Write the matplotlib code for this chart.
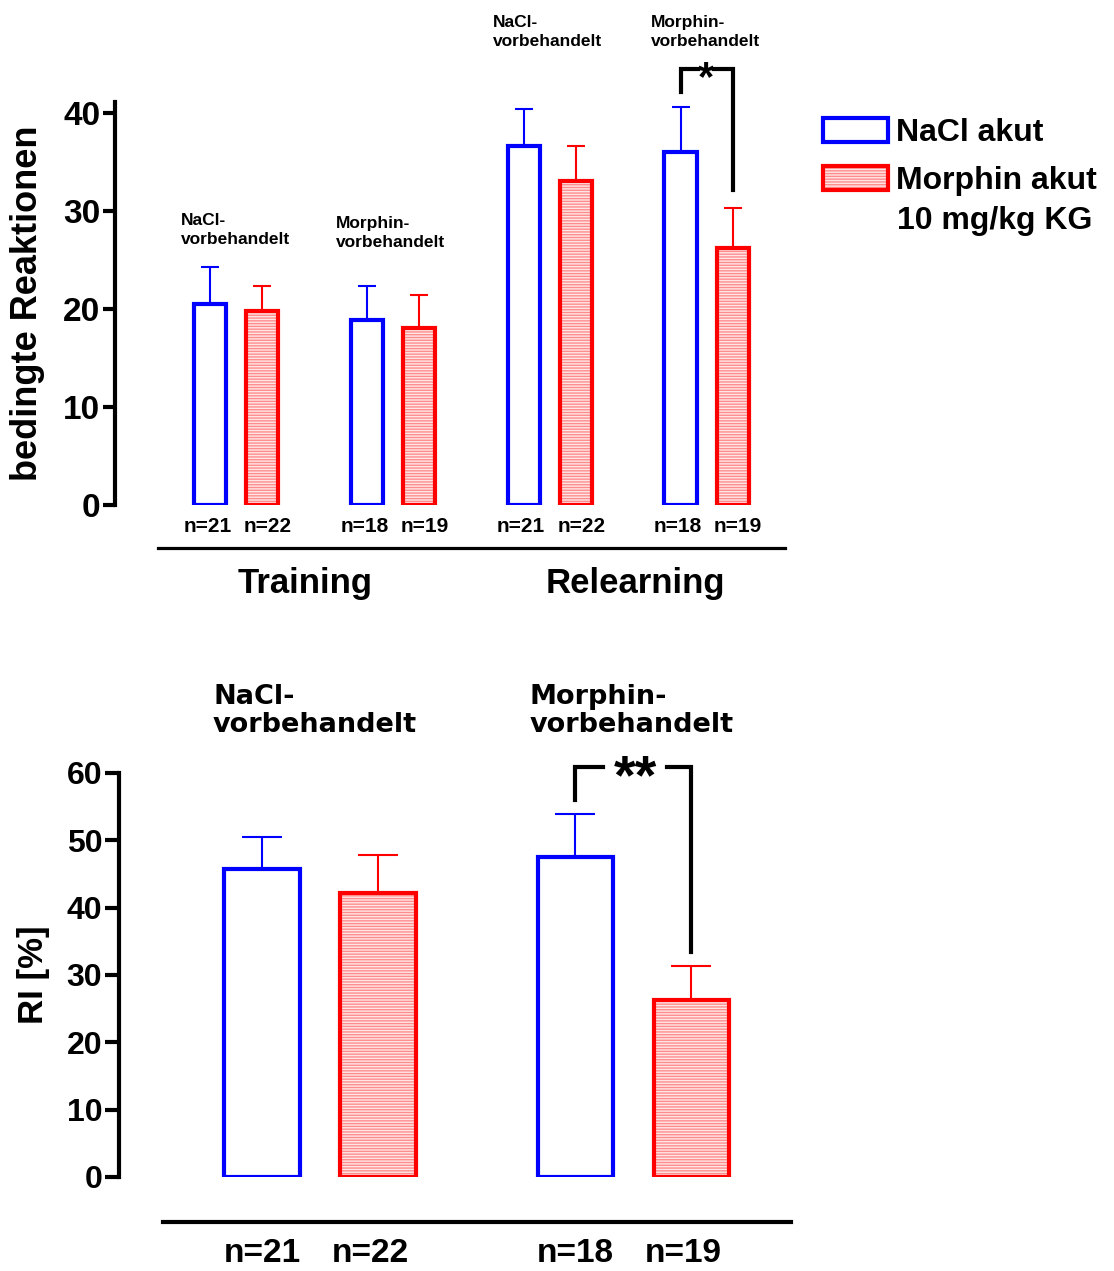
import matplotlib
matplotlib.use('Agg')
import matplotlib.pyplot as plt
from matplotlib.patches import Patch
from matplotlib.lines import Line2D
from matplotlib.legend_handler import HandlerTuple
from matplotlib.transforms import blended_transform_factory
import numpy as np

plt.rcParams['font.family'] = ['Liberation Sans', 'DejaVu Sans']
plt.rcParams['font.weight'] = 'bold'
plt.rcParams['hatch.linewidth'] = 1.0

# ---------------- data ----------------
top_groups = ['NaCl-\nvorbehandelt', 'Morphin-\nvorbehandelt',
              'NaCl-\nvorbehandelt', 'Morphin-\nvorbehandelt']
top_phases = ['Training', 'Relearning']
top_nacl_mean = [20.5, 18.9, 36.6, 36.0]
top_nacl_sem = [3.8, 3.4, 3.8, 4.6]
top_morph_mean = [19.8, 18.1, 33.0, 26.2]
top_morph_sem = [2.5, 3.3, 3.6, 4.1]
top_nacl_n = ['n=21', 'n=18', 'n=21', 'n=18']
top_morph_n = ['n=22', 'n=19', 'n=22', 'n=19']
top_yticks = [0, 10, 20, 30, 40]
top_ylabel = 'bedingte Reaktionen'

bot_groups = ['NaCl-\nvorbehandelt', 'Morphin-\nvorbehandelt']
bot_nacl_mean = [45.8, 47.5]
bot_nacl_sem = [4.7, 6.4]
bot_morph_mean = [42.2, 26.3]
bot_morph_sem = [5.6, 5.1]
bot_nacl_n = ['n=21', 'n=18']
bot_morph_n = ['n=22', 'n=19']
bot_yticks = [0, 10, 20, 30, 40, 50, 60]
bot_ylabel = 'RI [%]'

legend_labels = ['NaCl akut', 'Morphin akut']
legend_note = '10 mg/kg KG'
top_sig = '*'
bot_sig = '**'

# ---------------- style ----------------
W, H = 1114, 1271
BLUE = '#0000ff'
RED = '#ff0000'
PINK_BG = '#ffe6e6'
PINK_HATCH = '#ff8c8c'
HATCH = '------'


def fx(x):
    return x / W


def fy(y):
    return 1 - y / H


fig = plt.figure(figsize=(W / 100, H / 100), dpi=100)


def draw_bars(ax, xb, xr, mb, sb, mr, sr, width, capsize):
    ax.errorbar(xb, mb, yerr=[np.zeros(len(sb)), sb], fmt='none', ecolor=BLUE,
                elinewidth=1.5, capsize=capsize, capthick=1.5, zorder=1)
    ax.errorbar(xr, mr, yerr=[np.zeros(len(sr)), sr], fmt='none', ecolor=RED,
                elinewidth=1.5, capsize=capsize, capthick=1.5, zorder=1)
    ax.bar(xb, mb, width, facecolor='white', edgecolor=BLUE, linewidth=3, zorder=2)
    ax.bar(xr, mr, width, facecolor=PINK_BG, edgecolor=PINK_HATCH, hatch=HATCH,
           linewidth=0, zorder=2)
    ax.bar(xr, mr, width, fill=False, edgecolor=RED, linewidth=3, zorder=3)


def style_axis(ax, ticks, ylim, ticklen, labelsize):
    for s in ['top', 'right', 'bottom']:
        ax.spines[s].set_visible(False)
    ax.spines['left'].set_linewidth(3)
    ax.set_xticks([])
    ax.set_yticks(ticks)
    ax.set_ylim(*ylim)
    ax.tick_params(axis='y', length=ticklen, width=3, pad=2, labelsize=labelsize)
    ax.patch.set_visible(False)


# ---------------- top panel ----------------
ax1 = fig.add_axes([fx(115), fy(505), 675 / W, 403 / H])
gx1 = np.arange(len(top_nacl_mean)) * 3.0
xb1, xr1 = gx1, gx1 + 1
mb1, sb1 = np.array(top_nacl_mean), np.array(top_nacl_sem)
mr1, sr1 = np.array(top_morph_mean), np.array(top_morph_sem)
draw_bars(ax1, xb1, xr1, mb1, sb1, mr1, sr1, 0.62, 6.8)
style_axis(ax1, top_yticks, (0, 41.1), 8.6, 24)
ax1.set_xlim(-1.816, 11.09)
ax1.set_ylabel(top_ylabel, fontsize=26, fontweight='bold')
ax1.yaxis.set_label_coords(-0.104, 0.5)

tr1 = blended_transform_factory(ax1.transData, fig.transFigure)
for i in range(len(gx1)):
    ax1.text(xb1[i] - 0.05, fy(527), top_nacl_n[i], transform=tr1, ha='center', va='center', fontsize=15)
    ax1.text(xr1[i] + 0.1, fy(527), top_morph_n[i], transform=tr1, ha='center', va='center', fontsize=15)

ann_top_pos = [(181, 230), (336, 233), (493, 32), (651, 32)]
for (px, py), lab in zip(ann_top_pos, top_groups):
    fig.text(fx(px), fy(py), lab, ha='left', va='center', fontsize=12.5,
             linespacing=1.4, fontweight='bold')

fig.add_artist(Line2D([fx(158), fx(785)], [fy(548), fy(548)], color='black', lw=2.3))
fig.text(fx(305), fy(583), top_phases[0], ha='center', va='center', fontsize=25)
fig.text(fx(635), fy(583), top_phases[1], ha='center', va='center', fontsize=25)

# significance bracket (top)
i = 3
yl = mb1[i] + sb1[i] + 1.5
yt = mb1[i] + sb1[i] + 3.9
yr = mr1[i] + sr1[i] + 1.8
ax1.plot([xb1[i], xb1[i], xb1[i] + 0.33], [yl, yt, yt], color='black', lw=3,
         clip_on=False, solid_joinstyle='miter')
ax1.plot([xr1[i] - 0.36, xr1[i], xr1[i]], [yt, yt, yr], color='black', lw=3,
         clip_on=False, solid_joinstyle='miter')
ax1.text((xb1[i] + 0.33 + xr1[i] - 0.36) / 2, yt - 2.2, top_sig, ha='center',
         va='baseline', fontsize=30, clip_on=False)

# legend
h_nacl = Patch(facecolor='white', edgecolor=BLUE, linewidth=3)
h_morph = (Patch(facecolor=PINK_BG, edgecolor=PINK_HATCH, hatch=HATCH, linewidth=0),
           Patch(fill=False, edgecolor=RED, linewidth=3))
ax1.legend([h_nacl, h_morph], legend_labels, loc='upper left',
           bbox_to_anchor=(fx(823), fy(118)), bbox_transform=fig.transFigure,
           frameon=False, fontsize=23, handlelength=2.05, handleheight=0.78,
           handletextpad=0.25, labelspacing=0.56, borderpad=0, borderaxespad=0,
           handler_map={tuple: HandlerTuple(ndivide=1)})
fig.text(fx(897), fy(221), legend_note, ha='left', va='center', fontsize=23)

# ---------------- bottom panel ----------------
ax2 = fig.add_axes([fx(119), fy(1177), 671 / W, 404 / H])
gx2 = np.arange(len(bot_nacl_mean)) * 2.7
xb2, xr2 = gx2, gx2 + 1
mb2, sb2 = np.array(bot_nacl_mean), np.array(bot_nacl_sem)
mr2, sr2 = np.array(bot_morph_mean), np.array(bot_morph_sem)
draw_bars(ax2, xb2, xr2, mb2, sb2, mr2, sr2, 0.65, 14.4)
style_axis(ax2, bot_yticks, (0, 60), 10, 23)
ax2.set_xlim(-1.233, 4.55)
ax2.set_ylabel(bot_ylabel, fontsize=25, fontweight='bold')
ax2.yaxis.set_label_coords(-0.103, 0.5)

tr2 = blended_transform_factory(ax2.transData, fig.transFigure)
for i in range(len(gx2)):
    ax2.text(xb2[i], fy(1253), bot_nacl_n[i], transform=tr2, ha='center', va='center', fontsize=24)
    ax2.text(xr2[i] - 0.07, fy(1253), bot_morph_n[i], transform=tr2, ha='center', va='center', fontsize=24)

ann_bot_pos = [(213, 711), (530, 711)]
for (px, py), lab in zip(ann_bot_pos, bot_groups):
    fig.text(fx(px), fy(py), lab, ha='left', va='center', fontsize=19.5,
             linespacing=1.15, fontweight='bold', family='DejaVu Sans')

fig.add_artist(Line2D([fx(163), fx(791)], [fy(1222), fy(1222)], color='black', lw=3))

# significance bracket (bottom)
i = 1
yl = mb2[i] + sb2[i] + 2.1
yt = mb2[i] + sb2[i] + 7.0
yr = mr2[i] + sr2[i] + 2.0
ax2.plot([xb2[i], xb2[i], xb2[i] + 0.24], [yl, yt, yt], color='black', lw=3,
         clip_on=False, solid_joinstyle='miter')
ax2.plot([xr2[i] - 0.21, xr2[i], xr2[i]], [yt, yt, yr], color='black', lw=3,
         clip_on=False, solid_joinstyle='miter')
ax2.text((xb2[i] + 0.24 + xr2[i] - 0.21) / 2, yt - 3.9, bot_sig, ha='center',
         va='baseline', fontsize=40, clip_on=False)

fig.savefig('out.png', dpi=100)
